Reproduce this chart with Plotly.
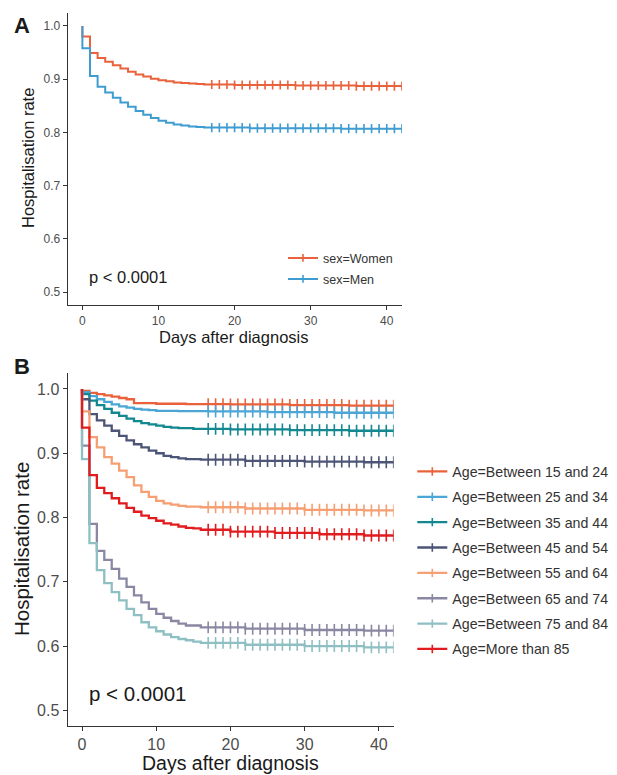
import plotly.graph_objects as go
from bisect import bisect_right

W, H = 617, 775
OFF = 8  # page body margin of the browser; plot div starts at (8, 8)
FONT = "Liberation Sans, Arial, Helvetica, sans-serif"

# ---------------- data: panel A (sex) ----------------
sex_names = ["sex=Women", "sex=Men"]
sex_colors = ["#E9623B", "#3F9CD0"]
women_days = [0, 1, 2, 3, 4, 5, 6, 7, 8, 9, 10, 11, 12, 13, 14, 15, 16, 20, 28, 36]
women_surv = [0.980, 0.949, 0.940, 0.933, 0.926, 0.920, 0.914, 0.909, 0.905, 0.901,
              0.898, 0.896, 0.894, 0.893, 0.892, 0.891, 0.890, 0.889, 0.888, 0.887]
men_days = [0, 1, 2, 3, 4, 5, 6, 7, 8, 9, 10, 11, 12, 13, 14, 15, 16, 22, 34]
men_surv = [0.958, 0.906, 0.886, 0.875, 0.865, 0.856, 0.848, 0.840, 0.833, 0.827,
            0.822, 0.818, 0.815, 0.813, 0.811, 0.810, 0.809, 0.808, 0.807]

# ---------------- data: panel B (age) ----------------
age_names = ["Age=Between 15 and 24", "Age=Between 25 and 34", "Age=Between 35 and 44",
             "Age=Between 45 and 54", "Age=Between 55 and 64", "Age=Between 65 and 74",
             "Age=Between 75 and 84", "Age=More than 85"]
age_colors = ["#E9623B", "#4BA6D6", "#138891", "#4D5577",
              "#F59F73", "#8A87A3", "#8EBFC3", "#E11B1E"]
age15_days = [0, 1, 2, 3, 4, 5, 6, 7, 10, 14, 20, 28, 36]
age15_surv = [0.997, 0.994, 0.992, 0.990, 0.988, 0.986, 0.984, 0.978, 0.977, 0.9765, 0.976, 0.975, 0.974]
age25_days = [0, 1, 2, 3, 4, 5, 6, 7, 8, 9, 10, 13, 17, 25, 34]
age25_surv = [0.995, 0.989, 0.984, 0.980, 0.976, 0.973, 0.971, 0.969, 0.968, 0.967,
              0.966, 0.9655, 0.965, 0.964, 0.963]
age35_days = [0, 1, 2, 3, 4, 5, 6, 7, 8, 9, 10, 11, 12, 13, 15, 20, 28, 36]
age35_surv = [0.992, 0.982, 0.975, 0.969, 0.963, 0.958, 0.954, 0.950, 0.947, 0.945,
              0.943, 0.941, 0.940, 0.939, 0.938, 0.937, 0.936, 0.935]
age45_days = [0, 1, 2, 3, 4, 5, 6, 7, 8, 9, 10, 11, 12, 13, 14, 16, 22, 30, 38]
age45_surv = [0.984, 0.961, 0.951, 0.943, 0.935, 0.927, 0.920, 0.914, 0.909, 0.904,
              0.900, 0.896, 0.894, 0.892, 0.891, 0.890, 0.888, 0.887, 0.886]
age55_days = [0, 1, 2, 3, 4, 5, 6, 7, 8, 9, 10, 11, 12, 13, 14, 16, 22, 30, 38]
age55_surv = [0.965, 0.925, 0.909, 0.894, 0.884, 0.873, 0.863, 0.850, 0.840, 0.832,
              0.826, 0.822, 0.820, 0.818, 0.817, 0.816, 0.814, 0.812, 0.811]
age65_days = [0, 1, 2, 3, 4, 5, 6, 7, 8, 9, 10, 11, 12, 13, 14, 16, 22, 30, 38]
age65_surv = [0.912, 0.790, 0.748, 0.734, 0.720, 0.705, 0.692, 0.679, 0.668, 0.658,
              0.650, 0.644, 0.639, 0.635, 0.632, 0.629, 0.627, 0.625, 0.624]
age75_days = [0, 1, 2, 3, 4, 5, 6, 7, 8, 9, 10, 11, 12, 13, 14, 15, 16, 22, 30, 38]
age75_surv = [0.891, 0.760, 0.718, 0.698, 0.684, 0.671, 0.658, 0.648, 0.637, 0.629,
              0.623, 0.618, 0.614, 0.611, 0.609, 0.607, 0.605, 0.602, 0.600, 0.598]
age85_days = [0, 1, 2, 3, 4, 5, 6, 7, 8, 9, 10, 11, 12, 13, 14, 15, 16, 20, 26, 32, 38]
age85_surv = [0.940, 0.866, 0.846, 0.838, 0.830, 0.822, 0.815, 0.809, 0.803, 0.799,
              0.795, 0.791, 0.789, 0.786, 0.784, 0.783, 0.781, 0.778, 0.776, 0.774, 0.772]

censor_days = list(range(17, 43))
end_day = 42
x_ticks = [0, 10, 20, 30, 40]
y_ticks = [0.5, 0.6, 0.7, 0.8, 0.9, 1.0]
y_ticktext = ["0.5", "0.6", "0.7", "0.8", "0.9", "1.0"]

sex_series = [(women_days, women_surv), (men_days, men_surv)]
age_series = [(age15_days, age15_surv), (age25_days, age25_surv), (age35_days, age35_surv),
              (age45_days, age45_surv), (age55_days, age55_surv), (age65_days, age65_surv),
              (age75_days, age75_surv), (age85_days, age85_surv)]


def px_x(p):  # screen pixel -> paper fraction
    return (p - OFF) / W


def px_y(p):
    return 1 - (p - OFF) / H


fig = go.Figure()


def add_km(days, surv, color, name, xa, ya, legend, lw, msize, lsize):
    x = [0] + days + [end_day]
    y = [1.0] + surv + [surv[-1]]
    fig.add_trace(go.Scatter(x=x, y=y, mode="lines", line=dict(color=color, width=lw, shape="hv"),
                             xaxis=xa, yaxis=ya, showlegend=False, hoverinfo="skip"))
    cy = [surv[bisect_right(days, c) - 1] for c in censor_days]
    fig.add_trace(go.Scatter(x=censor_days, y=cy, mode="markers",
                             marker=dict(symbol="line-ns", size=msize, color=color,
                                         line=dict(color=color, width=1.6)),
                             xaxis=xa, yaxis=ya, showlegend=False, hoverinfo="skip"))
    fig.add_trace(go.Scatter(x=[None], y=[None], mode="lines+markers", name=name,
                             line=dict(color=color, width=lw),
                             marker=dict(symbol="line-ns", size=lsize, color=color,
                                         line=dict(color=color, width=1.6)),
                             xaxis=xa, yaxis=ya, legend=legend, legendgroup=name))


for (d, s), c, n in zip(sex_series, sex_colors, sex_names):
    add_km(d, s, c, n, "x", "y", "legend", 2.0, 6.5, 5.5)
for (d, s), c, n in zip(age_series, age_colors, age_names):
    add_km(d, s, c, n, "x2", "y2", "legend2", 2.3, 8.5, 6)

AX = "#333333"
TICKC = "#4D4D4D"


def xaxis(domain, size):
    return dict(domain=domain, range=[-1.93, 42.0], tickvals=x_ticks, showline=True,
                linecolor=AX, linewidth=1.3, ticks="outside", ticklen=4, tickwidth=1.2,
                tickcolor=AX, tickfont=dict(size=size, color=TICKC, family=FONT),
                showgrid=False, zeroline=False, fixedrange=True)


def yaxis(domain, size):
    return dict(domain=domain, range=[0.4756, 1.0244], tickvals=y_ticks, ticktext=y_ticktext,
                showline=True, linecolor=AX, linewidth=1.3, ticks="outside", ticklen=4,
                tickwidth=1.2, tickcolor=AX, tickfont=dict(size=size, color=TICKC, family=FONT),
                showgrid=False, zeroline=False, fixedrange=True)


xa = xaxis([px_x(67.7), px_x(402)], 12); xa["anchor"] = "y"
ya = yaxis([px_y(305), px_y(13)], 12); ya["anchor"] = "x"
xb = xaxis([px_x(67.7), px_x(393.7)], 16); xb["anchor"] = "y2"
yb = yaxis([px_y(726), px_y(373.3)], 16); yb["anchor"] = "x2"


def ann(text, x, y, size, bold=False, angle=0, color="#1a1a1a", xanchor="center", xref="paper", yref="paper"):
    return dict(text=("<b>%s</b>" % text) if bold else text, x=x, y=y, xref=xref, yref=yref,
                showarrow=False, textangle=angle, xanchor=xanchor, yanchor="middle",
                font=dict(size=size, color=color, family=FONT))


annotations = [
    ann("A", px_x(22), px_y(26), 22, bold=True),
    ann("B", px_x(22), px_y(367), 22, bold=True),
    ann("Hospitalisation rate", px_x(28), px_y(158), 16.5, angle=-90),
    ann("Days after diagnosis", px_x(234), px_y(337), 16.5),
    ann("Hospitalisation rate", px_x(21), px_y(549), 20.5, angle=-90),
    ann("Days after diagnosis", px_x(230), px_y(762.5), 19.5),
    ann("p &lt; 0.0001", 0.66, 0.528, 16.5, xanchor="left", xref="x", yref="y"),
    ann("p &lt; 0.0001", 0.67, 0.526, 20.5, xanchor="left", xref="x2", yref="y2"),
]

fig.update_layout(
    width=W, height=H, autosize=False,
    margin=dict(l=0, r=0, t=0, b=0),
    paper_bgcolor="white", plot_bgcolor="white",
    font=dict(family=FONT, color="#1a1a1a"),
    xaxis=xa, yaxis=ya, xaxis2=xb, yaxis2=yb,
    annotations=annotations,
    legend=dict(x=px_x(283), y=px_y(243.3), xanchor="left", yanchor="top",
                bgcolor="rgba(0,0,0,0)", borderwidth=0, tracegroupgap=1.75,
                font=dict(size=12.5, color="#333333", family=FONT), itemclick=False,
                itemdoubleclick=False),
    legend2=dict(x=px_x(412.3), y=px_y(455.7), xanchor="left", yanchor="top",
                 bgcolor="rgba(0,0,0,0)", borderwidth=0, tracegroupgap=3.9,
                 font=dict(size=14.2, color="#333333", family=FONT), itemclick=False,
                 itemdoubleclick=False),
    showlegend=True,
)

fig.write_html("out.html")
